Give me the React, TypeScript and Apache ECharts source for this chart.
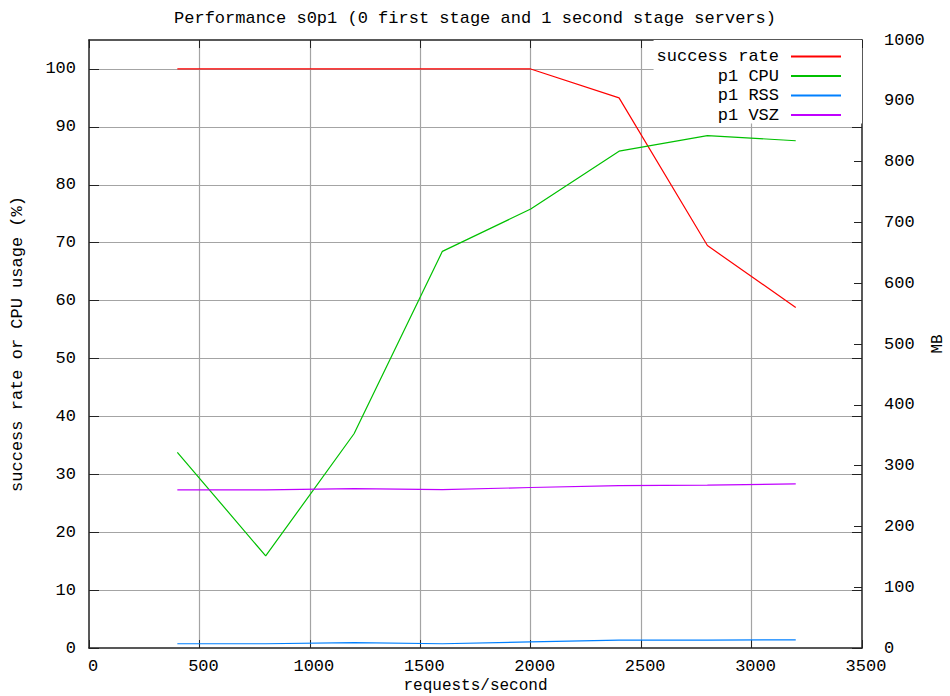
import React, { useEffect, useRef } from 'react';
import * as echarts from 'echarts';

const FONT = '"Liberation Mono", "DejaVu Sans Mono", monospace';
const FS = 17;

const titleText = 'Performance s0p1 (0 first stage and 1 second stage servers)';
const seriesNames = ['success rate', 'p1 CPU', 'p1 RSS', 'p1 VSZ'];
const seriesColors = ['#ff0000', '#00c000', '#0080ff', '#c000ff'];

const requests = [400, 800, 1200, 1600, 2000, 2400, 2800, 3200];
const successRate = [100, 100, 100, 100, 100, 95, 69.5, 58.8];
const cpuUsage = [33.8, 15.9, 37, 68.5, 75.8, 85.8, 88.5, 87.6];
const rssMB = [7, 7, 9, 7, 10, 13, 13, 13.5];
const vszMB = [260, 260, 262, 260.5, 264, 267, 268, 270];

const textStyle = { fontFamily: FONT, fontSize: FS, color: '#000' };
const nameStyle = { fontFamily: FONT, fontSize: 16, color: '#000', lineHeight: 16 };
const AXIS_COLOR = '#222';
const GRID_COLOR = '#a4a4a4';
const plain = (v: number) => String(v);

export default function App() {
  const ref = useRef<HTMLDivElement>(null);
  useEffect(() => {
    const chart = echarts.init(ref.current!, null, { renderer: 'svg' });
    const pairs = (ys: number[]) => requests.map((x, i) => [x, ys[i]]);
    const values = [successRate, cpuUsage, rssMB, vszMB];
    chart.setOption({
      animation: false,
      backgroundColor: '#fff',
      title: {
        text: titleText,
        left: 'center',
        top: 5,
        textStyle: { ...textStyle, fontWeight: 'normal' },
      },
      grid: { left: 89, right: 88, top: 40, bottom: 48, outerBoundsMode: 'none', containLabel: false },
      legend: {
        orient: 'vertical',
        right: 88,
        top: 40,
        align: 'right',
        itemWidth: 50,
        itemHeight: 14,
        itemGap: 2.5,
        padding: [8, 20, 0, 3],
        backgroundColor: '#fff',
        selectedMode: false,
        itemStyle: { opacity: 0 },
        textStyle: { ...textStyle, lineHeight: 14, padding: [0, 7, 0, 0] },
        data: seriesNames,
      },
      xAxis: [
        {
          type: 'value',
          position: 'bottom',
          min: 0,
          max: 3500,
          interval: 500,
          name: 'requests/second',
          nameLocation: 'middle',
          nameGap: 30,
          nameMoveOverlap: false,
          nameTextStyle: nameStyle,
          axisLine: { show: true, onZero: false, lineStyle: { color: AXIS_COLOR, width: 1.5 } },
          axisTick: { show: true, inside: true, length: 8, lineStyle: { color: AXIS_COLOR } },
          axisLabel: { ...textStyle, margin: 10, padding: [0, 0, 0, 8], formatter: plain },
          splitLine: { show: true, showMinLine: false, showMaxLine: false, lineStyle: { color: GRID_COLOR, width: 1.2 } },
        },
        {
          type: 'value',
          position: 'top',
          min: 0,
          max: 3500,
          interval: 500,
          axisLine: { show: true, onZero: false, lineStyle: { color: AXIS_COLOR, width: 1.5 } },
          axisTick: { show: true, inside: true, length: 8, lineStyle: { color: AXIS_COLOR } },
          axisLabel: { show: false },
          splitLine: { show: false },
        },
      ],
      yAxis: [
        {
          type: 'value',
          position: 'left',
          min: 0,
          max: 105,
          interval: 10,
          name: 'success rate or CPU usage (%)',
          nameLocation: 'middle',
          nameRotate: 90,
          nameGap: 63,
          nameTextStyle: textStyle,
          axisLine: { show: true, onZero: false, lineStyle: { color: AXIS_COLOR, width: 1.5 } },
          axisTick: { show: true, inside: true, length: 10, lineStyle: { color: AXIS_COLOR } },
          axisLabel: { ...textStyle, margin: 13, showMaxLabel: false, formatter: plain },
          splitLine: { show: true, showMinLine: false, showMaxLine: false, lineStyle: { color: GRID_COLOR, width: 1.2 } },
        },
        {
          type: 'value',
          position: 'right',
          min: 0,
          max: 1000,
          interval: 100,
          name: 'MB',
          nameLocation: 'middle',
          nameRotate: 90,
          nameGap: 68,
          nameMoveOverlap: false,
          nameTextStyle: nameStyle,
          axisLine: { show: true, onZero: false, lineStyle: { color: AXIS_COLOR, width: 1.5 } },
          axisTick: { show: true, inside: true, length: 8, lineStyle: { color: AXIS_COLOR } },
          axisLabel: { ...textStyle, margin: 22, formatter: plain },
          splitLine: { show: false },
        },
        {
          type: 'value',
          position: 'right',
          min: 0,
          max: 105,
          interval: 10,
          axisLine: { show: false, onZero: false },
          axisTick: { show: true, inside: true, length: 10, lineStyle: { color: AXIS_COLOR } },
          axisLabel: { show: false },
          splitLine: { show: false },
        },
      ],
      series: seriesNames.map((name, i) => ({
        name,
        type: 'line',
        xAxisIndex: 0,
        yAxisIndex: i < 2 ? 0 : 1,
        symbol: 'none',
        color: seriesColors[i],
        lineStyle: { color: seriesColors[i], width: 1.2 },
        data: pairs(values[i]),
      })),
    });
    return () => chart.dispose();
  }, []);
  return (
    <div
      ref={ref}
      style={{ position: 'absolute', left: 0, top: 0, width: 950, height: 696, background: '#fff' }}
    />
  );
}
